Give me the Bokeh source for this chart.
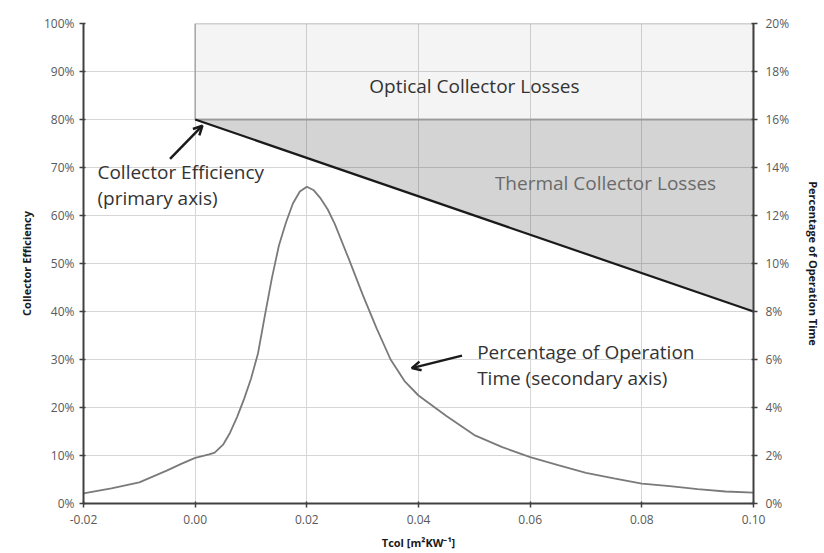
from bokeh.plotting import figure
from bokeh.models import (Range1d, LinearAxis, NumeralTickFormatter, FixedTicker,
                          Label, Arrow, OpenHead)
from bokeh.embed import file_html
from bokeh.resources import INLINE

# ---------------- data ----------------
x_ticks = [-0.02, 0.00, 0.02, 0.04, 0.06, 0.08, 0.10]
eff_ticks = [0.0, 0.1, 0.2, 0.3, 0.4, 0.5, 0.6, 0.7, 0.8, 0.9, 1.0]
time_ticks = [0.0, 0.02, 0.04, 0.06, 0.08, 0.10, 0.12, 0.14, 0.16, 0.18, 0.20]

# collector efficiency (primary axis)
eff_x = [0.00, 0.10]
eff_y = [0.80, 0.40]
optical_top = 1.00

# percentage of operation time (secondary axis)
time_x = [-0.020, -0.015, -0.010, -0.005, -0.0025, 0.000, 0.0025, 0.0035, 0.005,
          0.00625, 0.0075, 0.00875, 0.010, 0.01125, 0.0125, 0.01375, 0.015,
          0.01625, 0.0175, 0.01875, 0.020, 0.02125, 0.0225, 0.02375, 0.025,
          0.0275, 0.030, 0.0325, 0.035, 0.0375, 0.040, 0.045, 0.050, 0.055,
          0.060, 0.065, 0.070, 0.075, 0.080, 0.085, 0.090, 0.095, 0.100]
time_y = [0.0042, 0.0063, 0.0088, 0.0138, 0.0165, 0.0190, 0.0205, 0.0212, 0.0245,
          0.0295, 0.0360, 0.0435, 0.0520, 0.0625, 0.0785, 0.0940, 0.1075,
          0.1170, 0.1250, 0.1300, 0.1320, 0.1305, 0.1270, 0.1225, 0.1165,
          0.1020, 0.0870, 0.0730, 0.0600, 0.0510, 0.0450, 0.0365, 0.0285, 0.0235,
          0.0193, 0.0160, 0.0128, 0.0105, 0.0083, 0.0072, 0.0060, 0.0050, 0.0045]

FONT = "Open Sans"
TICK_COLOR = "#595959"
AXIS_COLOR = "#404040"
GRID_COLOR = "#d6d6d6"
TITLE_COLOR = "#1a1a1a"

p = figure(width=824, height=553, output_backend="svg", toolbar_location=None,
           x_range=Range1d(-0.02, 0.10), y_range=Range1d(0, 1),
           min_border_left=83, min_border_right=57, min_border_top=23,
           min_border_bottom=50)
p.outline_line_color = None
p.extra_y_ranges = {"time": Range1d(0, 0.20)}

# grid
p.xgrid.ticker = FixedTicker(ticks=x_ticks)
p.ygrid.ticker = FixedTicker(ticks=eff_ticks)
p.xgrid.grid_line_color = GRID_COLOR
p.ygrid.grid_line_color = GRID_COLOR

# axes
xax = p.xaxis[0]
xax.ticker = FixedTicker(ticks=x_ticks)
xax.formatter = NumeralTickFormatter(format="0.00")
xax.major_label_standoff = 7
xax.axis_label = "Tcol [m²KW⁻¹]"
xax.axis_label_standoff = 8

yax = p.yaxis[0]
yax.ticker = FixedTicker(ticks=eff_ticks)
yax.formatter = NumeralTickFormatter(format="0%")
yax.major_label_standoff = 5
yax.axis_label = "Collector Efficiency"
yax.axis_label_standoff = 7

right = LinearAxis(y_range_name="time", ticker=FixedTicker(ticks=time_ticks),
                   formatter=NumeralTickFormatter(format="0%"))
right.major_label_standoff = 8
right.axis_label = "Percentage of Operation Time"
right.axis_label_standoff = 14
p.add_layout(right, "right")

for ax in [xax, yax, right]:
    ax.axis_line_color = AXIS_COLOR
    ax.axis_line_width = 2
    ax.major_tick_line_color = AXIS_COLOR
    ax.major_tick_line_width = 1.5
    ax.major_tick_out = 4
    ax.major_tick_in = 2
    ax.minor_tick_line_color = None
    ax.major_label_text_font = FONT
    ax.major_label_text_font_size = "12px"
    ax.major_label_text_color = TICK_COLOR
    ax.axis_label_text_font = FONT
    ax.axis_label_text_font_size = "11px"
    ax.axis_label_text_font_style = "bold"
    ax.axis_label_text_color = TITLE_COLOR

# loss regions (semi-transparent so the grid shows through, as in the original)
p.patch([eff_x[0], eff_x[1], eff_x[1], eff_x[0]],
        [eff_y[0], eff_y[0], optical_top, optical_top],
        fill_color="black", fill_alpha=0.045, line_color="#a6a6a6", line_width=1.5)
p.patch([eff_x[0], eff_x[1], eff_x[1]], [eff_y[0], eff_y[0], eff_y[1]],
        fill_color="black", fill_alpha=0.17, line_color=None)
p.line([eff_x[0], eff_x[1]], [eff_y[0], eff_y[0]], line_color="#9a9a9a", line_width=1.5)

# efficiency line
p.line(eff_x, eff_y, line_color="#1a1a1a", line_width=2.2)

# operation time curve
p.line(time_x, time_y, y_range_name="time", line_color="#7a7a7a", line_width=1.8)

# annotations
def lab(x, y, t, color="#333333", size="19px", **kw):
    p.add_layout(Label(x=x, y=y, text=t, text_font=FONT, text_font_size=size,
                       text_color=color, **kw))

lab(0.050, 0.87, "Optical Collector Losses", text_align="center", text_baseline="middle")
lab(0.0735, 0.668, "Thermal Collector Losses", color="#6a6a6a",
    text_align="center", text_baseline="middle")
lab(-0.0175, 0.69, "Collector Efficiency", text_baseline="middle")
lab(-0.0175, 0.636, "(primary axis)", text_baseline="middle")
lab(0.0505, 0.316, "Percentage of Operation", text_baseline="middle")
lab(0.0505, 0.262, "Time (secondary axis)", text_baseline="middle")

p.add_layout(Arrow(x_start=-0.0045, y_start=0.718, x_end=0.0013, y_end=0.787,
                   line_color="#1a1a1a", line_width=2.5,
                   end=OpenHead(size=9, line_color="#1a1a1a", line_width=2.5)))
p.add_layout(Arrow(x_start=0.0478, y_start=0.308, x_end=0.0388, y_end=0.282,
                   line_color="#1a1a1a", line_width=2.5,
                   end=OpenHead(size=9, line_color="#1a1a1a", line_width=2.5)))

open("out.html", "w").write(file_html(p, INLINE))
